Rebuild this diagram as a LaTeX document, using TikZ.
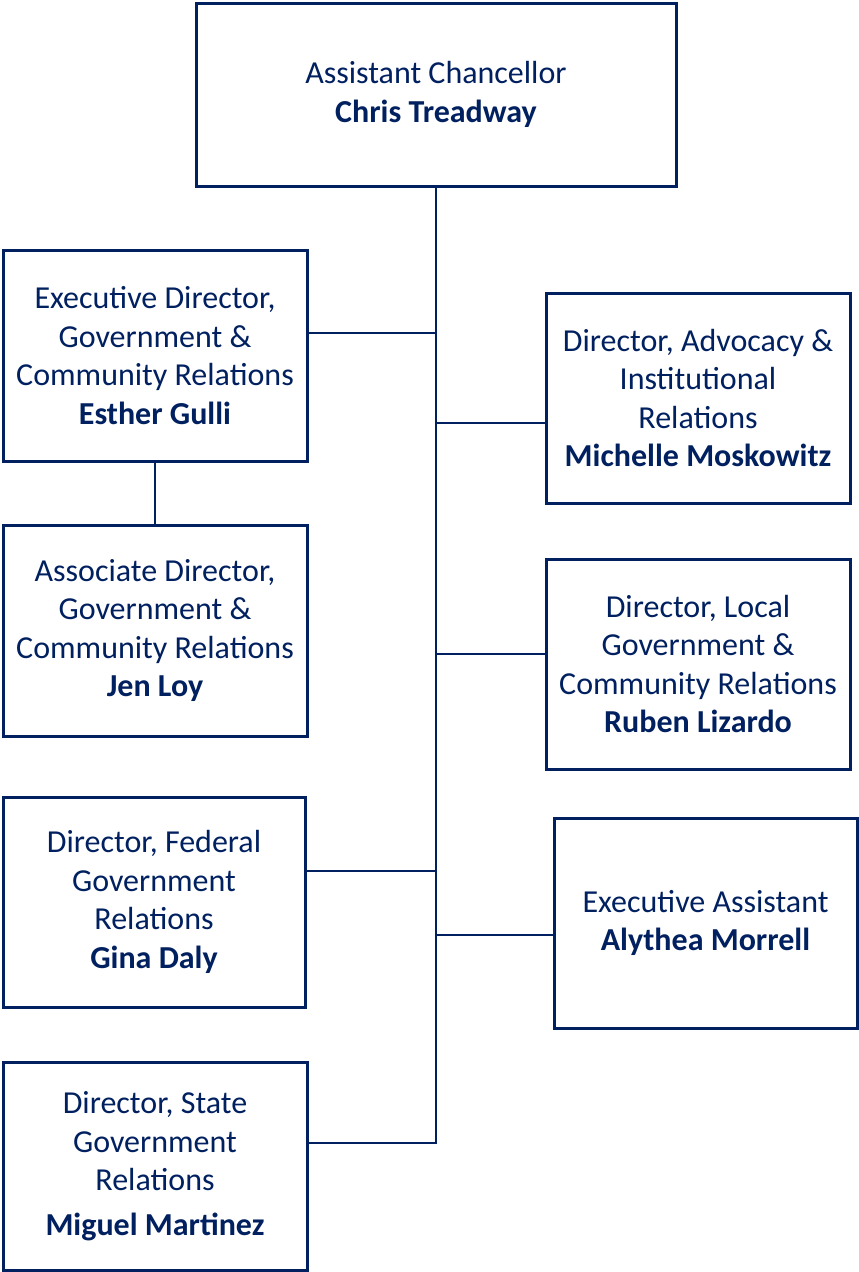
\documentclass[tikz,border=0pt]{standalone}
\usepackage{fontspec}
\setmainfont{Carlito}
\definecolor{navy}{HTML}{002060}

\begin{document}
\begin{tikzpicture}[x=1pt,y=-1pt]
 \tikzstyle{orgbox} = [draw=navy,line width=3pt,fill=white,align=center,text=navy,inner sep=0,minimum width=304,minimum height=211,font=\fontsize{32}{38.5}\selectfont]
 \tikzstyle{link} = [draw=navy,line width=2pt]
 \newcommand{\trunkx}{436}

  \useasboundingbox (0,0) rectangle (859,1272);

  % Head
  \node[orgbox,minimum width=480,minimum height=183] (chancellor) at (436,94.5) {Assistant Chancellor\\\textbf{Chris Treadway}};

  % Left column
  \node[orgbox] (esther) at (155,355.5) {Executive Director,\\Government \&\\Community Relations\\\textbf{Esther Gulli}};
  \node[orgbox] (jen) at (155,630.5) {Associate Director,\\Government \&\\Community Relations\\\textbf{Jen Loy}};
  \node[orgbox,minimum width=302,minimum height=210] (gina) at (154,902) {Director, Federal\\Government\\Relations\\\textbf{Gina Daly}};
  \node[orgbox,minimum height=208] (miguel) at (155,1166) {Director, State\\Government\\Relations\\[6pt]\textbf{Miguel Martinez}};

  % Right column
  \node[orgbox,minimum height=210] (michelle) at (698,398) {Director, Advocacy \&\\Institutional\\Relations\\\textbf{Michelle Moskowitz}};
  \node[orgbox,minimum height=210] (ruben) at (698,664) {Director, Local\\Government \&\\Community Relations\\\textbf{Ruben Lizardo}};
  \node[orgbox,minimum width=303,minimum height=210] (alythea) at (705.5,923) {Executive Assistant\\\textbf{Alythea Morrell}};

  % Junctions on the trunk
  \coordinate (trunkend) at (\trunkx,1143);
  \coordinate (jesther) at (\trunkx,333);
  \coordinate (jmichelle) at (\trunkx,423);
  \coordinate (jruben) at (\trunkx,654);
  \coordinate (jgina) at (\trunkx,871);
  \coordinate (jalythea) at (\trunkx,935);

  \draw[link] (chancellor.south) -- (trunkend) -- (trunkend -| miguel.east);
  \draw[link] (jesther) -- (jesther -| esther.east);
  \draw[link] (jmichelle) -- (jmichelle -| michelle.west);
  \draw[link] (jruben) -- (jruben -| ruben.west);
  \draw[link] (jgina) -- (jgina -| gina.east);
  \draw[link] (jalythea) -- (jalythea -| alythea.west);
  \draw[link] (esther.south) -- (jen.north);

\end{tikzpicture}
\end{document}
